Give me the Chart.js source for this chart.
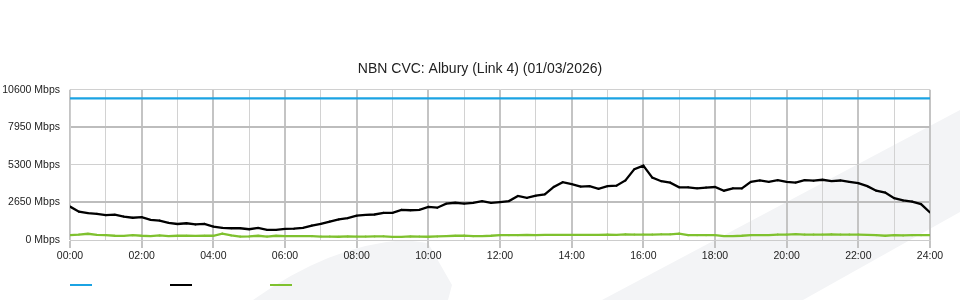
<!DOCTYPE html>
<html>
<head>
<meta charset="utf-8">
<title>NBN CVC: Albury (Link 4)</title>
<script src="https://cdn.jsdelivr.net/npm/chart.js@4/dist/chart.umd.min.js"></script>
<style>
  html, body { margin: 0; padding: 0; background: #fff; }
  #wrap { position: relative; width: 960px; height: 300px; }
  #legend { position: absolute; left: 70px; top: 284px; display: flex; }
  #legend span { display: block; width: 22px; height: 2px; margin-right: 78px; }
</style>
</head>
<body>
<div id="wrap">
  <canvas id="cvc" width="960" height="300"></canvas>
  <div id="legend"></div>
</div>
<script>
// tiempos cada 15 minutos (horas 0..24)
const times = [];
for (let i = 0; i <= 96; i++) times.push(i / 4);

const capacity = 10000; // Mbps, línea azul

// tráfico (negro), Mbps
const traffic = [
  2360, 2000, 1900, 1850, 1750, 1790, 1650, 1570, 1620,
  1420, 1370, 1210, 1130, 1180, 1100, 1140, 950,
  860, 830, 830, 760, 850, 710, 710, 780,
  800, 850, 1020, 1140, 1300, 1450, 1540, 1720,
  1770, 1800, 1920, 1910, 2130, 2100, 2130, 2340,
  2280, 2560, 2630, 2570, 2620, 2740, 2620, 2680,
  2750, 3110, 2970, 3130, 3220, 3750, 4080, 3950,
  3770, 3800, 3610, 3800, 3830, 4200, 5000, 5250,
  4400, 4150, 4050, 3720, 3720, 3650, 3700, 3740,
  3480, 3650, 3640, 4100, 4200, 4100, 4220, 4100,
  4050, 4230, 4190, 4250, 4160, 4200, 4100, 4010,
  3800, 3480, 3350, 2950, 2790, 2710, 2530, 1940
];

// tráfico (verde), Mbps
const upstream = [
  350, 380, 440, 360, 340, 300, 290, 340, 300,
  280, 320, 280, 300, 300, 290, 300, 300,
  450, 320, 240, 250, 300, 240, 300, 280,
  280, 280, 270, 240, 240, 230, 250, 240,
  240, 250, 260, 220, 220, 250, 240, 230,
  250, 280, 300, 310, 270, 280, 300, 340,
  340, 340, 360, 350, 360, 360, 360, 360,
  360, 360, 360, 380, 360, 400, 380, 380,
  380, 400, 400, 450, 340, 340, 340, 340,
  280, 280, 300, 340, 350, 350, 380, 380,
  420, 380, 380, 380, 400, 380, 380, 380,
  360, 340, 300, 340, 320, 340, 340, 350
];

const yTicks = [0, 2650, 5300, 7950, 10600];

const font = "'Liberation Sans', Arial, sans-serif";

// marca de agua gris clara del fondo
const watermark = {
  id: 'watermark',
  beforeDraw(chart) {
    const ctx = chart.ctx;
    ctx.save();
    ctx.fillStyle = '#f3f4f6';
    ctx.beginPath();
    ctx.moveTo(253, 300);
    ctx.quadraticCurveTo(330, 245, 405, 240);
    ctx.lineTo(428, 243);
    ctx.lineTo(452, 285);
    ctx.lineTo(448, 300);
    ctx.closePath();
    ctx.fill();
    ctx.beginPath();
    ctx.moveTo(602, 300);
    ctx.lineTo(960, 110);
    ctx.lineTo(960, 212);
    ctx.lineTo(803, 300);
    ctx.closePath();
    ctx.fill();
    ctx.restore();
  }
};

const toPoints = (values) => values.map((v, i) => ({ x: times[i], y: v }));

const datasets = [
  {
    label: 'Capacity',
    data: [{ x: 0, y: capacity }, { x: 24, y: capacity }],
    borderColor: '#1ba3e3',
    borderWidth: 2.2,
    pointRadius: 0
  },
  {
    label: 'Traffic',
    data: toPoints(traffic),
    borderColor: '#000000',
    borderWidth: 2.3,
    pointRadius: 1,
    pointBackgroundColor: '#000',
    pointBorderWidth: 0
  },
  {
    label: 'Upstream',
    data: toPoints(upstream),
    borderColor: '#7fc12f',
    borderWidth: 2.3,
    pointRadius: 1,
    pointBackgroundColor: '#7fc12f',
    pointBorderWidth: 0
  }
];

new Chart(document.querySelector('#cvc'), {
  type: 'line',
  data: { datasets },
  options: {
    responsive: false,
    animation: false,
    layout: { padding: { left: 0, right: 0, bottom: 38 } },
    plugins: {
      legend: { display: false },
      tooltip: { enabled: false },
      title: {
        display: true,
        text: 'NBN CVC: Albury (Link 4) (01/03/2026)',
        color: '#222',
        font: { family: font, size: 14, weight: 'normal' },
        padding: { top: 61, bottom: 12 }
      }
    },
    scales: {
      x: {
        type: 'linear',
        min: 0,
        max: 24,
        afterFit: (s) => { s.height = 22; },
        ticks: {
          stepSize: 1,
          autoSkip: false,
          maxRotation: 0,
          padding: 2,
          color: '#222',
          font: { family: font, size: 10.5 },
          callback: (v) => v % 2 === 0 ? String(v).padStart(2, '0') + ':00' : ''
        },
        grid: {
          tickLength: 8,
          color: (c) => c.tick && c.tick.value % 2 === 0 ? '#c4c4c4' : '#d2d2d2',
          lineWidth: (c) => c.tick && c.tick.value % 2 === 0 ? 2 : 1,
          tickColor: (c) => c.tick && c.tick.value % 2 === 0 ? '#c4c4c4' : 'rgba(0,0,0,0)'
        },
        border: { color: '#cccccc' }
      },
      y: {
        min: 0,
        max: 10600,
        afterFit: (s) => { s.width = 70; },
        afterBuildTicks: (s) => { s.ticks = yTicks.map(v => ({ value: v })); },
        ticks: {
          padding: 10,
          color: '#222',
          font: { family: font, size: 10.5 },
          callback: (v) => v + ' Mbps'
        },
        grid: {
          drawTicks: false,
          color: (c) => c.tick && (c.tick.value === 2650 || c.tick.value === 7950) ? '#bdbdbd' : '#d0d0d0',
          lineWidth: (c) => c.tick && (c.tick.value === 2650 || c.tick.value === 7950) ? 2 : 1
        },
        border: { color: '#cccccc' }
      },
      // eje vacío a la derecha para dejar margen y centrar el título
      gap: {
        position: 'right',
        min: 0,
        max: 1,
        afterFit: (s) => { s.width = 30; },
        ticks: { display: false },
        grid: { display: false, drawTicks: false },
        border: { display: false }
      }
    }
  },
  plugins: [watermark]
});

// leyenda: solo las líneas de color
document.querySelector('#legend').innerHTML = datasets
  .map(d => `<span style="background:${d.borderColor}"></span>`)
  .join('');
</script>
</body>
</html>
